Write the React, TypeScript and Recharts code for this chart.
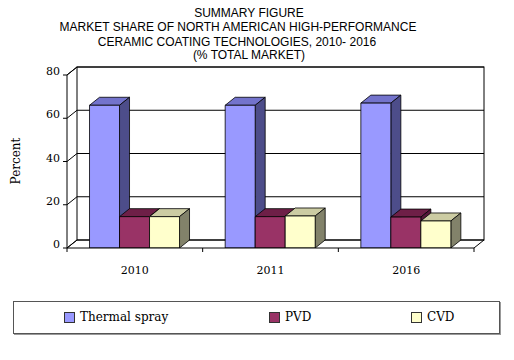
import React from 'react';
import { BarChart, Bar, XAxis, YAxis, CartesianGrid, ReferenceArea, Legend } from 'recharts';

const years = ['2010', '2011', '2016'];
const thermalSpray = [66, 66, 67];
const pvd = [14.5, 14.5, 14.3];
const cvd = [14.5, 14.8, 12.5];
const yTicks = [0, 20, 40, 60, 80];
const titleLines = [
  'SUMMARY FIGURE',
  'MARKET SHARE OF NORTH AMERICAN HIGH-PERFORMANCE',
  'CERAMIC COATING TECHNOLOGIES, 2010- 2016',
  '(% TOTAL MARKET)',
];
const yLabel = 'Percent';

const series = [
  { key: 'thermal', name: 'Thermal spray', front: '#9999FF', top: '#7373CC', side: '#4D4D8A' },
  { key: 'pvd', name: 'PVD', front: '#993366', top: '#6E1F47', side: '#55173A' },
  { key: 'cvd', name: 'CVD', front: '#FFFFCC', top: '#CCCCA3', side: '#82826A' },
];

const data = years.map((year, i) => ({
  year,
  thermal: thermalSpray[i],
  pvd: pvd[i],
  cvd: cvd[i],
}));

const DX = 10;
const DY = 8;
const SERIF = '"DejaVu Serif", serif';

const makeShape = (s: any) => (props: any) => {
  const { x, y, width: w, height: h } = props;
  if (w == null || h == null) return null;
  return (
    <g stroke="#000" strokeWidth={0.8} strokeLinejoin="round">
      <polygon points={`${x},${y} ${x + DX},${y - DY} ${x + w + DX},${y - DY} ${x + w},${y}`} fill={s.top} />
      <polygon points={`${x + w},${y} ${x + w + DX},${y - DY} ${x + w + DX},${y + h - DY} ${x + w},${y + h}`} fill={s.side} />
      <rect x={x} y={y} width={w} height={h} fill={s.front} />
    </g>
  );
};

const gridLine = (p: any) => {
  const { x1, y1, x2 } = p;
  return (
    <g key={`g-${p.index}`}>
      <line x1={x1} y1={y1} x2={x1 + DX} y2={y1 - DY} stroke="#000" strokeWidth={1} />
      <line x1={x1 + DX} y1={y1 - DY} x2={x2 + DX} y2={y1 - DY} stroke="#000" strokeWidth={1} />
    </g>
  );
};

const WallShape = (p: any) => {
  const { x, y, width: w, height: h } = p;
  return (
    <g stroke="#000" strokeWidth={1} fill="none">
      <rect x={x + DX} y={y - DY} width={w} height={h} />
      <line x1={x} y1={y} x2={x + DX} y2={y - DY} />
      <line x1={x} y1={y + h} x2={x + DX} y2={y + h - DY} />
      <line x1={x + w} y1={y + h} x2={x + w + DX} y2={y + h - DY} />
    </g>
  );
};

const XTick = (p: any) => {
  const { x, y, payload, index, visibleTicksCount } = p;
  const off = payload && payload.offset != null ? payload.offset : 0;
  return (
    <g>
      <line x1={x - off} y1={y} x2={x - off} y2={y + 4} stroke="#000" />
      {index === visibleTicksCount - 1 && (
        <line x1={x + off} y1={y} x2={x + off} y2={y + 4} stroke="#000" />
      )}
      <text x={x} y={y + 26} textAnchor="middle" fontFamily={SERIF} fontSize={11} fill="#000">
        {payload.value}
      </text>
    </g>
  );
};

const YTick = (p: any) => {
  const { x, y, payload } = p;
  return (
    <text x={x} y={y} textAnchor="end" fontFamily={SERIF} fontSize={11} fill="#000">
      {payload.value}
    </text>
  );
};

const swatchLeft = [50, 255, 397];

const LegendContent = (p: any) => {
  const payload = p.payload || [];
  const ordered = series
    .map((s) => payload.find((e: any) => e.value === s.name))
    .filter(Boolean);
  return (
    <div
      style={{
        position: 'relative',
        width: 487,
        height: 33,
        boxSizing: 'border-box',
        border: '1px solid #555',
        boxShadow: '1px 1px 0 #999',
        background: '#fff',
      }}
    >
      {ordered.map((e: any, i: number) => (
        <div key={i} style={{ position: 'absolute', left: swatchLeft[i], top: 9, height: 13, display: 'flex', alignItems: 'center', whiteSpace: 'nowrap' }}>
          <div style={{ width: 11, height: 11, boxSizing: 'border-box', border: '1px solid #333', background: e.color }} />
          <span style={{ marginLeft: 5, fontFamily: SERIF, fontSize: 12, color: '#000', lineHeight: '13px', whiteSpace: 'nowrap' }}>{e.value}</span>
        </div>
      ))}
    </div>
  );
};

const titleCenters = [249, 238, 237, 249];
const titleBaselines = [17, 31.3, 45.7, 59];

export default function App() {
  return (
    <div style={{ position: 'absolute', left: 0, top: 0, width: 514, height: 360, background: '#fff' }}>
      <BarChart
        width={514}
        height={360}
        data={data}
        margin={{ top: 75, right: 40, bottom: 82, left: 27 }}
        barCategoryGap="16.6%"
        barGap={0}
      >
        <CartesianGrid vertical={false} horizontal={gridLine} />
        <ReferenceArea y1={0} y2={80} shape={<WallShape />} fill="none" stroke="none" ifOverflow="visible" />
        <XAxis
          dataKey="year"
          height={30}
          tickSize={0}
          tickMargin={0}
          axisLine={{ stroke: '#000' }}
          tickLine={false}
          tick={<XTick />}
          interval={0}
        />
        <YAxis
          width={40}
          domain={[0, 80]}
          ticks={yTicks}
          tickSize={4}
          tickMargin={3}
          axisLine={{ stroke: '#000' }}
          tickLine={{ stroke: '#000' }}
          tick={<YTick />}
          allowDataOverflow
        />
        {series.map((s) => (
          <Bar
            key={s.key}
            dataKey={s.key}
            name={s.name}
            fill={s.front}
            shape={makeShape(s)}
            isAnimationActive={false}
          />
        ))}
        <Legend
          layout="horizontal"
          verticalAlign="middle"
          align="center"
          content={<LegendContent />}
          wrapperStyle={{ position: 'absolute', left: 13, top: 301, width: 487, height: 33 }}
        />
      </BarChart>
      <svg width={514} height={360} style={{ position: 'absolute', left: 0, top: 0, pointerEvents: 'none' }}>
        {titleLines.map((t, i) => (
          <text
            key={i}
            x={titleCenters[i]}
            y={titleBaselines[i]}
            textAnchor="middle"
            fontFamily='"Liberation Sans", Arial, sans-serif'
            fontSize={12}
            fill="#000"
          >
            {t}
          </text>
        ))}
        <text
          x={19.5}
          y={161}
          transform="rotate(-90, 19.5, 161)"
          textAnchor="middle"
          fontFamily={SERIF}
          fontSize={12}
          fill="#000"
        >
          {yLabel}
        </text>
      </svg>
    </div>
  );
}
